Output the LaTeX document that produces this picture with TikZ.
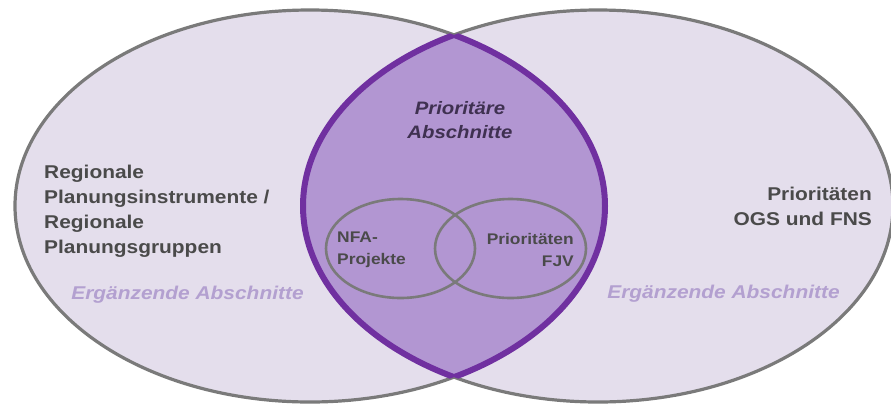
\documentclass[tikz,border=0pt]{standalone}
\usepackage{fontspec}
\setmainfont{Liberation Sans}[FakeStretch=1.13]
\definecolor{lightfill}{HTML}{E4DEEC}
\definecolor{lensfill}{HTML}{B296D2}
\definecolor{lensline}{HTML}{7030A0}
\definecolor{rimgray}{HTML}{7A7A7A}
\definecolor{txtgray}{HTML}{4A4A4A}
\definecolor{suppl}{HTML}{B3A0D0}
\definecolor{prio}{HTML}{3F3151}
\tikzset{
  maintext/.style={inner sep=0pt, font=\bfseries\fontsize{18.5}{25}\selectfont, text=txtgray},
  smalltext/.style={inner sep=0pt, font=\bfseries\fontsize{15.4}{22}\selectfont, text=txtgray},
  supptext/.style={inner sep=0pt, font=\bfseries\itshape\fontsize{18.5}{25}\selectfont, text=suppl},
  priotext/.style={inner sep=0pt, font=\bfseries\itshape\fontsize{18}{24}\selectfont, text=prio, align=center},
  rim/.style={draw=rimgray, line width=3.2pt},
  smallrim/.style={draw=rimgray, line width=2.6pt}
}
\begin{document}
\begin{tikzpicture}[x=1pt,y=-1pt]
\useasboundingbox[fill=white] (0,0) rectangle (891,405);
\clip (0,0) rectangle (891,405);
% big sets
\fill[lightfill] (310,206) ellipse [x radius=295pt, y radius=196pt];
\fill[lightfill] (598,206) ellipse [x radius=295pt, y radius=196pt];
% lens
\begin{scope}
  \clip (310,206) ellipse [x radius=295pt, y radius=196pt];
  \fill[lensfill] (598,206) ellipse [x radius=295pt, y radius=196pt];
\end{scope}
\draw[rim] (310,206) ellipse [x radius=295pt, y radius=196pt];
\draw[rim] (598,206) ellipse [x radius=295pt, y radius=196pt];
\begin{scope}
  \clip (310,206) ellipse [x radius=295pt, y radius=196pt];
  \draw[lensline, line width=6pt] (598,206) ellipse [x radius=295pt, y radius=196pt];
\end{scope}
\begin{scope}
  \clip (598,206) ellipse [x radius=295pt, y radius=196pt];
  \draw[lensline, line width=6pt] (310,206) ellipse [x radius=295pt, y radius=196pt];
\end{scope}
% small sets
\draw[smallrim] (400.5,248.5) ellipse [x radius=74.5pt, y radius=49.5pt];
\draw[smallrim] (510.5,248.5) ellipse [x radius=75.5pt, y radius=49.5pt];
% texts
\node[maintext, anchor=west, align=left] (reg) at (44,211) {Regionale\\Planungsinstrumente /\\Regionale\\Planungsgruppen};
\node[maintext, anchor=east, align=right] (ogs) at (872,206) {Prioritäten\\OGS und FNS};
\node[supptext] (suppL) at (187.5,295) {Ergänzende Abschnitte};
\node[supptext] (suppR) at (723.5,294) {Ergänzende Abschnitte};
\node[priotext] (prioab) at (460,120) {Prioritäre\\Abschnitte};
\node[smalltext, anchor=west, align=left] (nfa) at (337,250) {NFA-\\Projekte};
\node[smalltext, anchor=east, align=right] (fjv) at (574,250) {Prioritäten\\FJV};
\end{tikzpicture}
\end{document}
